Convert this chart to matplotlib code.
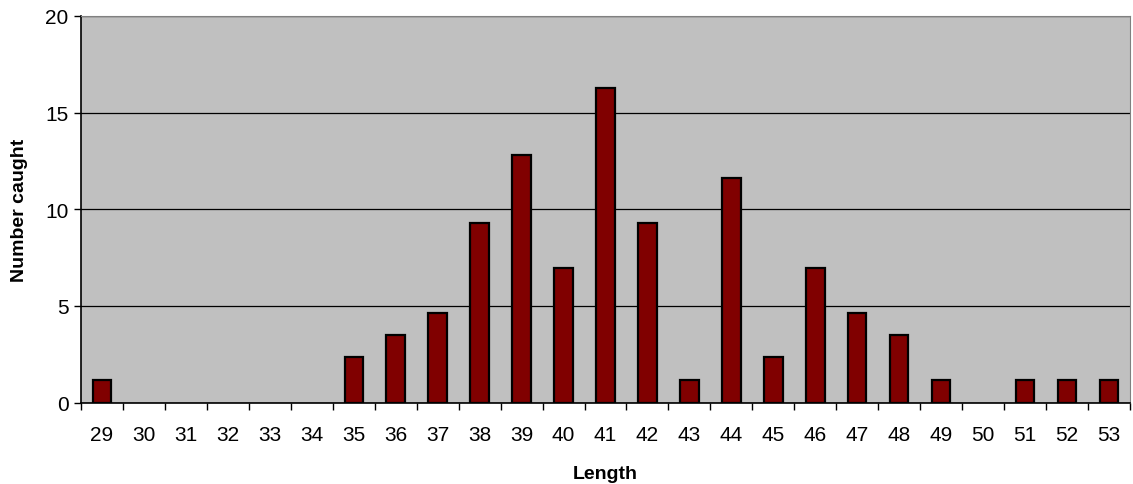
import matplotlib.pyplot as plt
import numpy as np

plt.rcParams['font.family'] = ['Liberation Sans', 'DejaVu Sans']

# lengths and number caught
lengths = list(range(29, 54))
caught = [1.16, 0, 0, 0, 0, 0, 2.33, 3.49, 4.65, 9.30, 12.79, 6.98, 16.28,
          9.30, 1.16, 11.63, 2.33, 6.98, 4.65, 3.49, 1.16, 0, 1.16, 1.16, 1.16]
y_ticks = [0, 5, 10, 15, 20]

fig = plt.figure(figsize=(11.33, 4.85), dpi=100)
ax = fig.add_axes([81 / 1133, (485 - 403.5) / 485, (1130 - 81) / 1133, (403.5 - 17) / 485])
ax.set_facecolor('#c0c0c0')

x = np.arange(len(lengths))
vals = np.array(caught)
nz = vals > 0  # empty classes get no bar outline
ax.bar(x[nz], vals[nz], width=0.44, color='#800000', edgecolor='black', linewidth=1.6, zorder=3)

ax.set_xlim(-0.5, len(lengths) - 0.5)
ax.set_ylim(0, 20)
ax.set_yticks(y_ticks)
ax.yaxis.grid(True, color='black', linewidth=0.9, zorder=1)

# ticks between categories, labels centred on bars
ax.set_xticks(np.arange(len(lengths) + 1) - 0.5)
ax.set_xticklabels([])
ax.set_xticks(x, minor=True)
ax.set_xticklabels([str(v) for v in lengths], minor=True)
ax.tick_params(axis='x', which='major', direction='out', length=5, width=1, color='black')
ax.tick_params(axis='x', which='minor', length=0, pad=16, labelsize=15)
ax.tick_params(axis='y', direction='out', length=5, width=1, labelsize=15, pad=4)

ax.spines['left'].set_color('black')
ax.spines['bottom'].set_color('black')
ax.spines['left'].set_linewidth(1.2)
ax.spines['bottom'].set_linewidth(1.2)
ax.spines['top'].set_color('#808080')
ax.spines['right'].set_color('#808080')

ax.set_xlabel('Length', fontsize=14, fontweight='bold', labelpad=15)
ax.set_ylabel('Number caught', fontsize=14, fontweight='bold', labelpad=12)

fig.savefig('out.png', dpi=100)
